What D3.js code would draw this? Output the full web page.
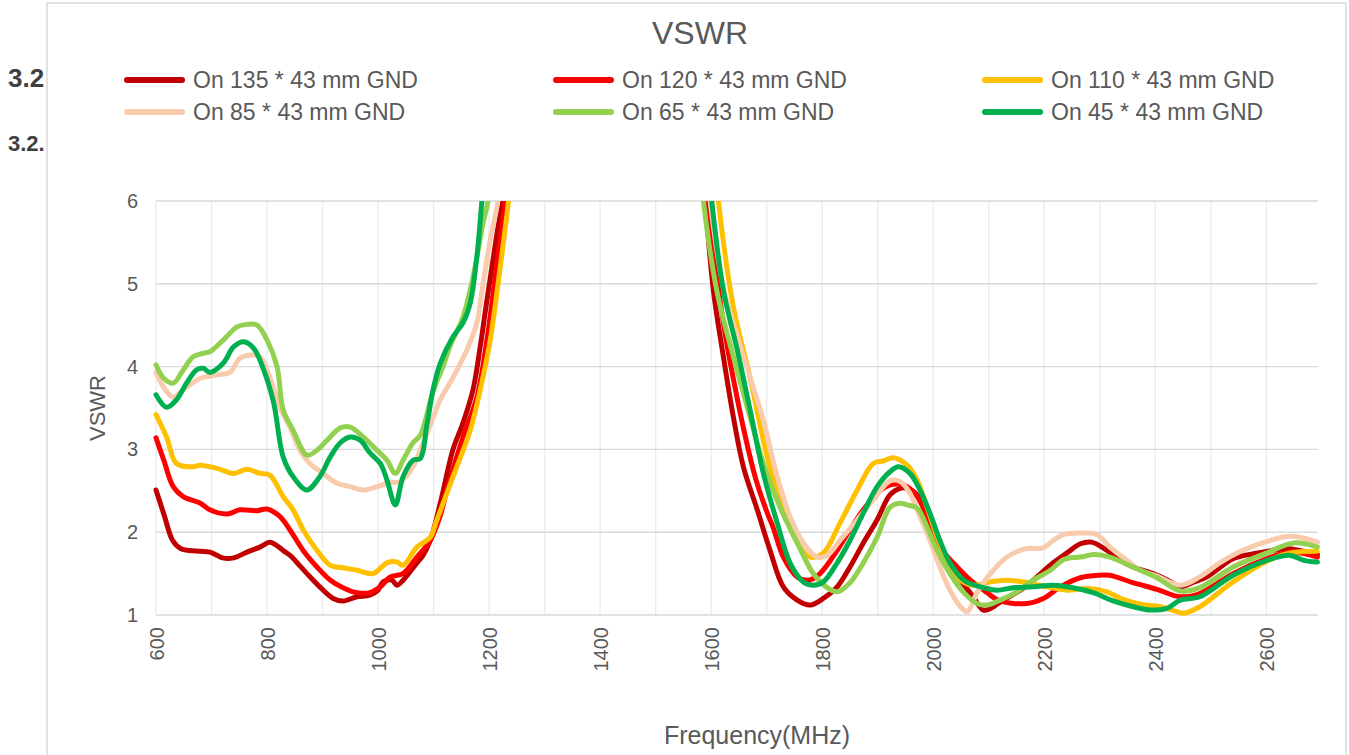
<!DOCTYPE html>
<html>
<head>
    <meta charset="utf-8">
    <title>VSWR</title>
    <script src="https://cdnjs.cloudflare.com/ajax/libs/d3/7.8.5/d3.min.js"></script>
    <style>
        body { margin: 0; background: #fff; }
        text { font-family: "Liberation Sans", Arial, sans-serif; }
    </style>
</head>
<body>
<div id="chart"></div>

<script type="text/javascript">
    // frequencies (MHz) and VSWR, one list per ground size
    var s135 = [[600,2.51],[615,2.2],[630,1.9],[645,1.8],[660,1.78],[680,1.77],[697,1.76],[710,1.72],[720,1.69],[740,1.69],[764,1.76],[787,1.82],[805,1.88],[815,1.85],[829,1.78],[845,1.7],[853,1.64],[872,1.5],[895,1.34],[919,1.2],[937,1.17],[962,1.22],[985,1.24],[1000,1.3],[1009,1.4],[1025,1.42],[1034,1.36],[1045,1.42],[1070,1.63],[1081,1.72],[1094,1.9],[1112,2.35],[1135,3.0],[1153,3.32],[1171,3.72],[1184,4.24],[1196,4.8],[1214,5.6],[1223,6.0],[1240,7.2],[1400,12],[1575,7.0],[1589,6.0],[1604,4.92],[1622,4.12],[1640,3.39],[1658,2.79],[1683,2.27],[1706,1.78],[1730,1.34],[1755,1.18],[1778,1.12],[1802,1.2],[1827,1.34],[1850,1.58],[1874,1.87],[1899,2.15],[1922,2.45],[1940,2.53],[1953,2.53],[1971,2.45],[1989,2.19],[2007,1.9],[2025,1.66],[2049,1.42],[2072,1.22],[2090,1.06],[2103,1.08],[2126,1.18],[2157,1.3],[2180,1.42],[2216,1.63],[2241,1.75],[2265,1.86],[2285,1.88],[2313,1.78],[2337,1.66],[2360,1.58],[2396,1.5],[2420,1.43],[2445,1.34],[2470,1.4],[2493,1.46],[2540,1.68],[2577,1.74],[2638,1.8],[2660,1.78],[2692,1.73]];
    var s120 = [[600,3.14],[614,2.87],[631,2.55],[649,2.43],[680,2.35],[697,2.27],[728,2.22],[751,2.27],[782,2.26],[800,2.28],[823,2.19],[841,2.03],[865,1.78],[890,1.58],[914,1.42],[937,1.33],[962,1.27],[985,1.27],[1004,1.34],[1022,1.46],[1045,1.5],[1070,1.7],[1094,1.9],[1112,2.2],[1124,2.51],[1153,3.15],[1178,3.63],[1196,4.32],[1214,5.25],[1229,6.0],[1245,7.0],[1400,12],[1580,7.0],[1595,6.0],[1610,5.1],[1625,4.4],[1640,3.85],[1660,3.2],[1680,2.65],[1700,2.25],[1712,2.05],[1730,1.7],[1755,1.46],[1775,1.42],[1796,1.5],[1827,1.78],[1850,2.03],[1874,2.27],[1899,2.47],[1922,2.57],[1940,2.58],[1953,2.55],[1971,2.43],[1989,2.19],[2012,1.82],[2043,1.58],[2067,1.42],[2097,1.27],[2120,1.17],[2169,1.14],[2198,1.2],[2229,1.34],[2265,1.45],[2301,1.48],[2318,1.48],[2360,1.39],[2403,1.31],[2445,1.22],[2480,1.26],[2540,1.5],[2601,1.68],[2643,1.76],[2692,1.7]];
    var s110 = [[600,3.42],[619,3.15],[637,2.83],[667,2.79],[680,2.81],[710,2.77],[740,2.71],[764,2.76],[787,2.71],[805,2.69],[829,2.43],[847,2.27],[865,2.03],[890,1.78],[914,1.6],[937,1.57],[962,1.54],[991,1.5],[1016,1.63],[1034,1.64],[1045,1.6],[1070,1.82],[1094,1.94],[1106,2.15],[1135,2.67],[1166,3.23],[1184,3.72],[1202,4.32],[1220,5.2],[1235,6.0],[1250,7],[1400,12],[1600,7],[1613,6.0],[1640,4.72],[1670,3.87],[1701,2.91],[1730,2.27],[1760,1.82],[1778,1.7],[1802,1.75],[1832,2.11],[1863,2.51],[1892,2.83],[1910,2.86],[1928,2.9],[1953,2.81],[1971,2.63],[1989,2.3],[2007,1.94],[2025,1.66],[2049,1.42],[2072,1.36],[2103,1.4],[2133,1.42],[2169,1.39],[2205,1.34],[2241,1.3],[2277,1.32],[2313,1.28],[2337,1.2],[2373,1.13],[2409,1.1],[2439,1.04],[2450,1.02],[2480,1.1],[2540,1.4],[2601,1.65],[2643,1.75],[2692,1.77]];
    var s85 = [[600,3.93],[614,3.75],[631,3.63],[649,3.72],[680,3.86],[710,3.9],[733,3.93],[751,4.1],[769,4.14],[787,4.12],[805,3.87],[823,3.51],[841,3.27],[859,2.99],[877,2.83],[901,2.71],[926,2.59],[950,2.55],[973,2.51],[998,2.55],[1022,2.6],[1040,2.61],[1063,2.79],[1081,3.08],[1100,3.4],[1112,3.6],[1135,3.87],[1160,4.2],[1178,4.53],[1189,5.0],[1202,5.53],[1216,6.0],[1235,7],[1400,12],[1585,7],[1598,6.0],[1622,4.96],[1640,4.52],[1670,3.87],[1694,3.35],[1719,2.67],[1742,2.19],[1766,1.87],[1791,1.7],[1809,1.72],[1832,1.9],[1863,2.15],[1892,2.39],[1922,2.62],[1941,2.61],[1958,2.47],[1976,2.19],[1994,1.9],[2012,1.58],[2030,1.3],[2049,1.1],[2061,1.04],[2079,1.27],[2103,1.5],[2133,1.7],[2166,1.8],[2198,1.81],[2216,1.9],[2234,1.97],[2265,1.99],[2295,1.97],[2318,1.82],[2349,1.66],[2373,1.54],[2403,1.47],[2445,1.36],[2480,1.46],[2516,1.63],[2551,1.76],[2593,1.87],[2643,1.95],[2692,1.88]];
    var s65 = [[600,4.02],[614,3.86],[631,3.8],[649,3.96],[667,4.12],[685,4.16],[697,4.18],[721,4.32],[746,4.48],[764,4.51],[782,4.5],[800,4.32],[818,4.0],[829,3.48],[847,3.23],[872,2.93],[890,2.99],[908,3.11],[932,3.26],[950,3.27],[973,3.15],[998,2.99],[1016,2.87],[1031,2.71],[1045,2.87],[1063,3.08],[1076,3.17],[1099,3.7],[1117,4.0],[1130,4.25],[1153,4.6],[1171,5.08],[1189,5.73],[1198,6.0],[1215,7],[1400,12],[1572,7],[1586,6.0],[1610,4.92],[1640,4.12],[1670,3.39],[1694,2.83],[1724,2.3],[1755,1.87],[1784,1.5],[1809,1.33],[1827,1.28],[1850,1.39],[1874,1.63],[1899,1.94],[1922,2.3],[1940,2.35],[1953,2.33],[1971,2.29],[1989,2.06],[2007,1.78],[2030,1.5],[2055,1.27],[2079,1.14],[2097,1.12],[2120,1.18],[2151,1.28],[2180,1.42],[2211,1.54],[2235,1.67],[2265,1.7],[2290,1.73],[2318,1.7],[2360,1.58],[2403,1.45],[2445,1.29],[2480,1.33],[2540,1.58],[2601,1.75],[2649,1.87],[2692,1.82]];
    var s45 = [[600,3.66],[619,3.51],[637,3.6],[655,3.8],[673,3.96],[685,3.98],[697,3.93],[721,4.04],[740,4.24],[758,4.3],[776,4.22],[794,3.96],[812,3.56],[829,2.91],[847,2.67],[872,2.51],[895,2.67],[914,2.91],[932,3.08],[950,3.15],[968,3.11],[985,2.96],[1004,2.83],[1016,2.63],[1031,2.33],[1045,2.67],[1063,2.87],[1076,2.89],[1088,3.3],[1100,3.75],[1112,4.04],[1135,4.36],[1153,4.53],[1166,4.77],[1178,5.33],[1187,6.0],[1200,7],[1400,12],[1588,7],[1601,6.0],[1622,4.92],[1647,4.2],[1670,3.48],[1694,2.71],[1719,2.11],[1742,1.63],[1766,1.4],[1784,1.36],[1802,1.4],[1827,1.63],[1850,1.9],[1874,2.23],[1899,2.55],[1922,2.73],[1937,2.79],[1958,2.71],[1976,2.51],[1994,2.23],[2012,1.9],[2030,1.63],[2055,1.42],[2085,1.34],[2115,1.3],[2144,1.33],[2180,1.34],[2216,1.36],[2252,1.33],[2288,1.27],[2324,1.17],[2360,1.1],[2391,1.06],[2421,1.08],[2445,1.18],[2480,1.22],[2540,1.48],[2601,1.66],[2643,1.72],[2667,1.66],[2692,1.64]];

    var seriesNames = ["On 135 * 43 mm GND", "On 120 * 43 mm GND", "On 110 * 43 mm GND",
                       "On 85 * 43 mm GND", "On 65 * 43 mm GND", "On 45 * 43 mm GND"];
    var seriesColors = ["#C00000", "#FF0000", "#FFC000", "#F8CBAD", "#92D050", "#00B050"];
    var seriesData = [s135, s120, s110, s85, s65, s45];

    var xTickLabels = [600, 800, 1000, 1200, 1400, 1600, 1800, 2000, 2200, 2400, 2600];
    var yTickLabels = [1, 2, 3, 4, 5, 6];

    var width = 1349,
        height = 755;

    var svg = d3.select("#chart").append("svg")
        .attr("width", width)
        .attr("height", height);

    // heading text of the document behind the chart (cut off by the frame)
    svg.append("text").attr("x", 8).attr("y", 87)
        .style("font-weight", "bold").style("font-size", "26px").style("fill", "#404040")
        .text("3.2");
    svg.append("text").attr("x", 8).attr("y", 151)
        .style("font-weight", "bold").style("font-size", "22px").style("fill", "#404040")
        .text("3.2.");

    // chart frame
    svg.append("rect")
        .attr("x", 47).attr("y", 3)
        .attr("width", 1299).attr("height", 770)
        .style("fill", "#fff").style("stroke", "#d9d9d9").style("stroke-width", 1.5);

    var plot = {left: 156, right: 1318, top: 201, bottom: 615};

    var x = d3.scaleLinear().domain([600, 2693]).range([plot.left, plot.right]);
    var y = d3.scaleLinear().domain([1, 6]).range([plot.bottom, plot.top]);

    ////////////////////////////////////////////////////////////
    ///////////////////////// Grid /////////////////////////////
    ////////////////////////////////////////////////////////////

    var grid = svg.append("g");

    grid.selectAll(".vgrid")
        .data(d3.range(600, 2693, 100))
        .enter().append("line")
        .attr("class", "vgrid")
        .attr("x1", function(d) { return x(d); })
        .attr("x2", function(d) { return x(d); })
        .attr("y1", plot.top).attr("y2", plot.bottom)
        .style("stroke", "#ececec").style("stroke-width", 1.4);

    grid.selectAll(".hgrid")
        .data(yTickLabels)
        .enter().append("line")
        .attr("class", "hgrid")
        .attr("x1", plot.left).attr("x2", plot.right)
        .attr("y1", function(d) { return y(d); })
        .attr("y2", function(d) { return y(d); })
        .style("stroke", "#d9d9d9").style("stroke-width", 1.4);

    ////////////////////////////////////////////////////////////
    ///////////////////////// Axes /////////////////////////////
    ////////////////////////////////////////////////////////////

    var yAxis = svg.append("g")
        .attr("transform", "translate(" + plot.left + ",0)")
        .call(d3.axisLeft(y).tickValues(yTickLabels).tickSize(0).tickPadding(18).tickFormat(d3.format("d")));
    yAxis.select(".domain").remove();
    yAxis.selectAll("text")
        .style("font-size", "20px").style("fill", "#595959")
        .style("font-family", "'Liberation Sans', Arial, sans-serif");

    var xAxis = svg.append("g")
        .attr("transform", "translate(0," + plot.bottom + ")")
        .call(d3.axisBottom(x).tickValues(xTickLabels).tickSize(0).tickFormat(d3.format("d")));
    xAxis.select(".domain").remove();
    xAxis.selectAll("text")
        .attr("transform", "rotate(-90)")
        .attr("x", -12).attr("y", 0).attr("dy", "0.35em")
        .style("text-anchor", "end")
        .style("font-size", "20px").style("fill", "#595959")
        .style("font-family", "'Liberation Sans', Arial, sans-serif");

    svg.append("text")
        .attr("transform", "translate(105,408) rotate(-90)")
        .style("text-anchor", "middle")
        .style("font-size", "22px").style("fill", "#595959")
        .text("VSWR");

    svg.append("text")
        .attr("x", 757).attr("y", 744)
        .style("text-anchor", "middle")
        .style("font-size", "25px").style("fill", "#595959")
        .text("Frequency(MHz)");

    svg.append("text")
        .attr("x", 700).attr("y", 44)
        .style("text-anchor", "middle")
        .style("font-size", "32px").style("fill", "#595959")
        .text("VSWR");

    ////////////////////////////////////////////////////////////
    ///////////////////////// Lines ////////////////////////////
    ////////////////////////////////////////////////////////////

    svg.append("clipPath").attr("id", "plotClip")
        .append("rect")
        .attr("x", plot.left - 5).attr("y", plot.top)
        .attr("width", plot.right - plot.left + 10).attr("height", plot.bottom - plot.top + 10);

    var line = d3.line()
        .x(function(d) { return x(d[0]); })
        .y(function(d) { return y(d[1]); })
        .curve(d3.curveCatmullRom.alpha(0.5));

    svg.append("g").attr("clip-path", "url(#plotClip)")
        .selectAll(".series")
        .data(seriesData)
        .enter().append("path")
        .attr("class", "series")
        .attr("d", line)
        .style("fill", "none")
        .style("stroke", function(d, i) { return seriesColors[i]; })
        .style("stroke-width", 5)
        .style("stroke-linejoin", "round")
        .style("stroke-linecap", "round");

    ////////////////////////////////////////////////////////////
    //////////////////////// Legend ////////////////////////////
    ////////////////////////////////////////////////////////////

    var legendCols = [127, 556, 985],
        legendRows = [80, 112];

    var legend = svg.selectAll(".legend")
        .data(seriesNames)
        .enter().append("g")
        .attr("class", "legend")
        .attr("transform", function(d, i) {
            return "translate(" + legendCols[i % 3] + "," + legendRows[Math.floor(i / 3)] + ")";
        });

    legend.append("line")
        .attr("x1", 0).attr("x2", 55).attr("y1", 0).attr("y2", 0)
        .style("stroke", function(d, i) { return seriesColors[i]; })
        .style("stroke-width", 6)
        .style("stroke-linecap", "round");

    legend.append("text")
        .attr("x", 66).attr("y", 0).attr("dy", "0.36em")
        .style("font-size", "23px").style("fill", "#595959")
        .text(function(d) { return d; });

    // the frame hides the heading text that runs under it
    svg.append("rect")
        .attr("x", 48).attr("y", 4).attr("width", 20).attr("height", 190)
        .style("fill", "#fff");
</script>
</body>
</html>
